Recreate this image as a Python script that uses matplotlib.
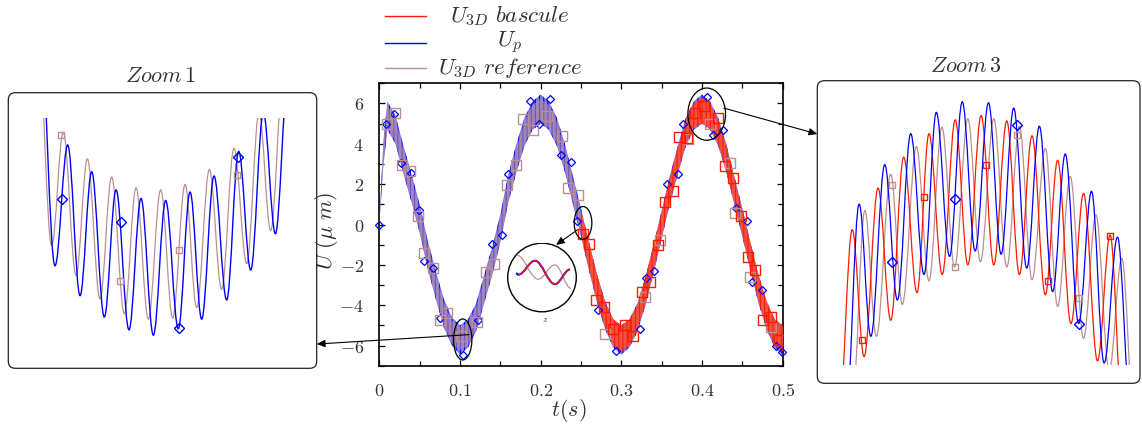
import matplotlib
matplotlib.use('Agg')
import matplotlib.pyplot as plt
from matplotlib.path import Path
from matplotlib.patches import PathPatch, Ellipse, Circle, FancyBboxPatch, ConnectionPatch
from matplotlib.lines import Line2D
from matplotlib.ticker import MultipleLocator, FuncFormatter

plt.rcParams['mathtext.fontset'] = 'cm'
plt.rcParams['hatch.linewidth'] = 0.8

BLUE = '#0000ff'
RED = '#ff1a00'
BROWN = '#bc8f8f'
TXT = '#333333'

# ---- main plot: envelope of the fast oscillation ----
t_env = [0.0, 0.005, 0.01, 0.02, 0.03, 0.04, 0.05, 0.06, 0.07, 0.08, 0.09,
         0.10, 0.11, 0.12, 0.13, 0.14, 0.15, 0.16, 0.17, 0.18, 0.19,
         0.20, 0.21, 0.22, 0.23, 0.24, 0.25, 0.26, 0.27, 0.28, 0.29,
         0.30, 0.31, 0.32, 0.33, 0.34, 0.35, 0.36, 0.37, 0.38, 0.39,
         0.40, 0.41, 0.42, 0.43, 0.44, 0.45, 0.46, 0.47, 0.48, 0.49, 0.50]
blue_lo = [0.0, 2.9, 4.7, 4.0, 2.5, 1.1, -0.4, -2.2, -3.7, -5.1, -6.0,
           -6.45, -6.1, -5.3, -3.9, -2.5, -0.9, 1.1, 2.6, 3.9, 4.7,
           5.0, 4.7, 3.9, 2.6, 1.0, -0.6, -2.3, -3.9, -5.2, -6.1,
           -6.45, -6.1, -5.3, -4.0, -2.4, -0.7, 1.0, 2.5, 3.9, 4.7,
           5.0, 4.7, 3.9, 2.6, 1.0, -0.6, -2.3, -3.9, -5.2, -6.1, -6.45]
blue_hi = [0.0, 4.1, 6.1, 5.4, 3.9, 2.5, 1.0, -0.8, -2.3, -3.7, -4.6,
           -5.0, -4.7, -3.9, -2.5, -1.1, 0.5, 2.5, 4.0, 5.3, 6.1,
           6.45, 6.1, 5.3, 4.0, 2.4, 0.8, -0.9, -2.5, -3.8, -4.7,
           -5.0, -4.7, -3.9, -2.6, -1.0, 0.7, 2.4, 3.9, 5.3, 6.1,
           6.45, 6.1, 5.3, 4.0, 2.4, 0.8, -0.9, -2.5, -3.8, -4.7, -5.0]
brown_lo = [0.0, 3.0, 4.8, 4.1, 2.6, 1.2, -0.3, -2.1, -3.6, -5.0, -5.9,
            -6.25, -6.0, -5.2, -3.8, -2.4, -0.8, 1.2, 2.7, 4.0, 4.8,
            5.05, 4.8, 4.0, 2.7, 1.1, -0.5, -2.2, -3.8, -5.1, -5.9,
            -6.25, -5.9, -5.2, -3.9, -2.3, -0.6, 1.1, 2.6, 4.0, 4.8,
            5.05, 4.8, 4.0, 2.7, 1.1, -0.5, -2.2, -3.8, -5.1, -5.9, -6.25]
brown_hi = [0.0, 4.0, 5.9, 5.2, 3.7, 2.3, 0.8, -1.0, -2.5, -3.9, -4.8,
            -5.05, -4.9, -4.1, -2.7, -1.3, 0.3, 2.3, 3.8, 5.1, 5.9,
            6.25, 5.9, 5.1, 3.8, 2.2, 0.6, -1.1, -2.7, -4.0, -4.8,
            -5.05, -4.8, -4.1, -2.8, -1.2, 0.5, 2.2, 3.7, 5.1, 5.9,
            6.25, 5.9, 5.1, 3.8, 2.2, 0.6, -1.1, -2.7, -4.0, -4.8, -5.05]
t_red = [0.25, 0.26, 0.27, 0.28, 0.29, 0.30, 0.31, 0.32, 0.33, 0.34, 0.35,
         0.36, 0.37, 0.38, 0.39, 0.40, 0.41, 0.42, 0.43, 0.44, 0.45,
         0.46, 0.47, 0.48, 0.49, 0.50]
red_lo = [-0.5, -2.2, -3.8, -5.1, -6.0, -6.3, -6.0, -5.2, -3.9, -2.3, -0.6,
          1.1, 2.6, 4.0, 4.8, 5.0, 4.8, 4.0, 2.7, 1.1, -0.5,
          -2.2, -3.8, -5.1, -6.0, -6.3]
red_hi = [0.7, -0.9, -2.5, -3.9, -4.7, -5.0, -4.7, -4.0, -2.6, -1.0, 0.6,
          2.3, 3.8, 5.2, 6.0, 6.3, 6.0, 5.2, 3.9, 2.3, 0.7,
          -0.9, -2.5, -3.8, -4.7, -5.0]

# markers on the main plot
blue_mk_t = [0.0, 0.008, 0.018, 0.027, 0.039, 0.049, 0.056, 0.067, 0.075, 0.104,
             0.122, 0.140, 0.152, 0.159, 0.187, 0.198, 0.211, 0.225, 0.238, 0.245,
             0.271, 0.293, 0.323, 0.330, 0.341, 0.356, 0.370, 0.376, 0.406, 0.413,
             0.426, 0.442, 0.456, 0.462, 0.474, 0.492, 0.499]
blue_mk_u = [0.0, 4.97, 5.46, 3.06, 2.56, 0.73, -1.79, -2.14, -4.63, -6.45,
             -4.75, -0.96, -0.51, 2.48, 6.13, 5.0, 6.2, 3.47, 3.1, 0.15,
             -4.25, -6.25, -5.17, -2.67, -2.29, 2.0, 2.48, 5.0, 6.33, 4.44,
             4.67, 0.81, 0.15, -2.84, -3.26, -6.0, -6.33]
brown_mk_t = [0.009, 0.020, 0.028, 0.038, 0.0475, 0.056, 0.0666, 0.075, 0.084, 0.101,
              0.121, 0.132, 0.142, 0.158, 0.170, 0.178, 0.190, 0.2075, 0.226, 0.234,
              0.2467, 0.280, 0.329, 0.348, 0.383, 0.410, 0.435, 0.441, 0.459, 0.486]
brown_mk_u = [5.0, 5.55, 2.97, 2.64, 0.4, -1.39, -2.17, -4.75, -4.37, -5.55,
              -4.83, -2.34, -1.97, 1.98, 2.93, 5.22, 4.69, 5.38, 4.39, 1.81,
              1.48, -5.42, -3.59, -0.76, 4.22, 4.97, 3.06, 0.56, -2.59, -5.08]
red_mk_t = [0.253, 0.260, 0.269, 0.278, 0.290, 0.305, 0.315, 0.325, 0.3355, 0.346,
            0.354, 0.364, 0.372, 0.381, 0.391, 0.402, 0.420, 0.429, 0.439, 0.448,
            0.457, 0.466, 0.476, 0.486, 0.496]
red_mk_u = [-0.47, -0.98, -3.72, -4.09, -5.17, -5.0, -5.55, -3.34, -2.84, -1.01,
            1.10, 1.64, 4.35, 4.30, 5.55, 5.88, 5.3, 2.89, 2.31, 0.40,
            -1.59, -2.26, -4.75, -4.58, -5.75]

# ---- Zoom 1 (t in ms): extrema of the curves ----
z1_blue_t = [88.42, 89.95, 91.25, 92.51, 93.70, 94.99, 96.19, 97.51, 98.74, 100.00,
             101.26, 102.55, 103.75, 104.94, 106.20, 107.49, 108.72, 109.95, 111.24,
             112.47, 113.73]
z1_blue_u = [-3.59, -5.80, -4.67, -6.08, -4.92, -6.28, -5.09, -6.40, -5.17, -6.45,
             -5.19, -6.39, -5.11, -6.30, -4.96, -6.12, -4.73, -5.84, -4.37,
             -5.50, -4.09]
z1_brown_t = [88.25, 89.61, 90.80, 92.10, 93.26, 94.55, 95.74, 97.04, 98.23, 99.49,
              100.75, 101.98, 103.24, 104.43, 105.72, 106.98, 108.24, 109.54, 110.80,
              111.99, 113.28]
z1_brown_u = [-3.78, -5.61, -4.55, -5.89, -4.80, -6.11, -4.97, -6.25, -5.07, -6.30,
              -5.09, -6.29, -5.04, -6.19, -4.90, -6.02, -4.70, -5.78, -4.37,
              -5.47, -4.03]
z1_blue_mk_t = [90.63, 96.66, 102.62, 108.62]
z1_blue_mk_u = [-5.18, -5.39, -6.38, -4.78]
z1_brown_mk_t = [90.57, 96.63, 102.62, 108.58]
z1_brown_mk_u = [-4.58, -5.945, -5.65, -4.95]

# ---- Zoom 3 (t in ms) ----
z3_blue_t = [387.48, 388.77, 389.90, 391.25, 392.47, 393.76, 395.05, 396.24, 397.52,
             398.75, 400.00, 401.29, 402.51, 403.73, 404.99, 406.21, 407.50, 408.72,
             410.01, 411.26, 412.48, 413.77, 415.06]
z3_blue_u = [3.45, 5.44, 4.20, 5.81, 4.54, 6.10, 4.78, 6.30, 4.95,
             6.40, 5.00, 6.39, 4.97, 6.34, 4.84, 6.17, 4.62, 5.91,
             4.32, 5.56, 3.95, 5.13, 3.51]
z3_red_t = [386.84, 388.10, 389.25, 390.60, 391.83, 393.08, 394.37, 395.53, 396.81,
            398.07, 399.29, 400.58, 401.80, 403.06, 404.28, 405.50, 406.79, 407.98,
            409.27, 410.49, 411.84, 413.06, 414.25]
z3_red_u = [3.51, 5.20, 4.01, 5.59, 4.35, 5.88, 4.61, 6.10, 4.78,
            6.23, 4.87, 6.27, 4.87, 6.22, 4.78, 6.08, 4.59, 5.85,
            4.32, 5.54, 3.97, 5.15, 3.51]
z3_brown_t = [388.13, 389.32, 390.44, 391.83, 392.95, 394.31, 395.53, 396.78, 398.01,
              399.29, 400.51, 401.80, 403.06, 404.28, 405.50, 406.79, 407.98, 409.20,
              410.49, 411.68, 412.97, 414.19, 415.38]
z3_brown_u = [3.60, 5.38, 4.20, 5.72, 4.50, 5.98, 4.72, 6.16, 4.85,
              6.24, 4.90, 6.24, 4.85, 6.17, 4.73, 5.96, 4.48, 5.70,
              4.18, 5.34, 3.88, 4.93, 3.45]
z3_blue_mk_t = [391.99, 398.01, 404.02, 410.07]
z3_blue_mk_u = [4.90, 5.49, 6.18, 4.32]
z3_brown_mk_t = [391.99, 398.01, 404.02, 410.07]
z3_brown_mk_u = [5.62, 4.85, 6.09, 4.56]
z3_red_mk_t = [389.00, 395.01, 401.00, 407.01, 413.03]
z3_red_mk_u = [4.17, 5.51, 5.81, 4.72, 5.14]

# ---- circular inset near t = 0.25 (local units) ----
c_red_x = [-0.74, -0.68, -0.20, 0.37, 0.80]
c_red_y = [0.12, 0.08, 0.48, -0.19, 0.23]
c_brown_x = [-0.72, -0.11, 0.37, 0.83]
c_brown_y = [0.64, -0.05, 0.36, -0.31]


def smooth_path(xs, ys, k=0.364):
    # cubic segments with flat tangents at each extremum
    verts = [(xs[0], ys[0])]
    codes = [Path.MOVETO]
    for i in range(1, len(xs)):
        dx = xs[i] - xs[i - 1]
        verts += [(xs[i - 1] + k * dx, ys[i - 1]), (xs[i] - k * dx, ys[i]), (xs[i], ys[i])]
        codes += [Path.CURVE4] * 3
    return Path(verts, codes)


W, H = 1142, 428


def px_box(x0, y0, x1, y1):
    return [x0 / W, 1 - y1 / H, (x1 - x0) / W, (y1 - y0) / H]


fig = plt.figure(figsize=(W / 100, H / 100), dpi=100)

# ---------------- main axes ----------------
ax = fig.add_axes(px_box(379.3, 83.3, 782.7, 365.7))
ax.fill_between(t_env, blue_lo, blue_hi, facecolor='#7a78ee', edgecolor=BLUE,
                hatch='||||', linewidth=0, zorder=2)
ax.fill_between(t_env, brown_lo, brown_hi, facecolor=BROWN, alpha=0.6,
                linewidth=0, zorder=3)
ax.fill_between(t_red, red_lo, red_hi, facecolor='#ff4a32', edgecolor=RED,
                hatch='||||', linewidth=0, alpha=0.9, zorder=4)

ax.plot(blue_mk_t, blue_mk_u, ls='none', marker='D', ms=4.5, mfc='none',
        mec=BLUE, mew=0.9, zorder=5, clip_on=False)
ax.plot(brown_mk_t, brown_mk_u, ls='none', marker='s', ms=6.8, mfc='none',
        mec=BROWN, mew=1.0, zorder=5)
ax.plot(red_mk_t, red_mk_u, ls='none', marker='s', ms=6.8, mfc='none',
        mec=RED, mew=1.0, zorder=6)

ax.set_xlim(0, 0.5)
ax.set_ylim(-7, 7)
ax.xaxis.set_major_locator(MultipleLocator(0.1))
ax.xaxis.set_minor_locator(MultipleLocator(0.05))
ax.yaxis.set_major_locator(MultipleLocator(2))
ax.yaxis.set_minor_locator(MultipleLocator(1))
fmt = FuncFormatter(lambda v, p: '$%g$' % round(v, 3))
ax.xaxis.set_major_formatter(fmt)
ax.yaxis.set_major_formatter(fmt)
ax.tick_params(which='both', direction='in', top=True, right=True,
               labelsize=13, labelcolor=TXT, width=0.9)
ax.tick_params(which='major', length=4.5)
ax.tick_params(which='minor', length=3.5)
ax.tick_params(axis='x', pad=12)
ax.tick_params(axis='y', pad=11)
for s in ax.spines.values():
    s.set_linewidth(1.2)
ax.set_xlabel(r'$t(s)$', fontsize=16, color=TXT)
ax.set_ylabel(r'$U\ (\mu\ m)$', fontsize=16, color=TXT)
ax.xaxis.set_label_coords(0.469, -0.11)
ax.yaxis.set_label_coords(-0.098, 0.477)

# zoom ellipses
for (xc, yc, w, h) in [(0.1034, -5.70, 0.0227, 2.03),
                       (0.4058, 5.47, 0.0467, 2.59),
                       (0.2525, 0.08, 0.0219, 1.62)]:
    ax.add_patch(Ellipse((xc, yc), w, h, fill=False, ec='black', lw=0.9,
                         zorder=7, clip_on=False))

# ---------------- Zoom 1 panel ----------------
fig.add_artist(FancyBboxPatch((0.083, 0.597), 3.084, 2.756,
                              boxstyle='round,pad=0,rounding_size=0.07',
                              transform=fig.dpi_scale_trans, fill=False,
                              ec='#222222', lw=0.9))
az1 = fig.add_axes(px_box(8.3, 118.3, 316.7, 368.3))
az1.set_xlim(85.18, 116.69)
az1.set_ylim(-6.76, -4.42)
az1.axis('off')
az1.add_patch(PathPatch(smooth_path(z1_brown_t, z1_brown_u), fill=False,
                        ec=BROWN, lw=0.9))
az1.add_patch(PathPatch(smooth_path(z1_blue_t, z1_blue_u), fill=False,
                        ec=BLUE, lw=1.0))
az1.plot(z1_blue_mk_t, z1_blue_mk_u, ls='none', marker='D', ms=5, mfc='none',
         mec=BLUE, mew=1.0)
az1.plot(z1_brown_mk_t, z1_brown_mk_u, ls='none', marker='s', ms=5, mfc='none',
         mec=BROWN, mew=1.0)
fig.text(160 / W, 1 - 76 / H, r'$Zoom\,1$', ha='center', va='center',
         fontsize=16, color=TXT)

# ---------------- Zoom 3 panel ----------------
fig.add_artist(FancyBboxPatch((8.173, 0.447), 3.227, 3.026,
                              boxstyle='round,pad=0,rounding_size=0.07',
                              transform=fig.dpi_scale_trans, fill=False,
                              ec='#222222', lw=0.9))
az3 = fig.add_axes(px_box(817.3, 80.7, 1140.7, 365.0))
az3.set_xlim(384.72, 416.02)
az3.set_ylim(3.931, 6.597)
az3.axis('off')
az3.add_patch(PathPatch(smooth_path(z3_brown_t, z3_brown_u), fill=False,
                        ec=BROWN, lw=0.9))
az3.add_patch(PathPatch(smooth_path(z3_red_t, z3_red_u), fill=False,
                        ec=RED, lw=0.9))
az3.add_patch(PathPatch(smooth_path(z3_blue_t, z3_blue_u), fill=False,
                        ec=BLUE, lw=0.9))
az3.plot(z3_blue_mk_t, z3_blue_mk_u, ls='none', marker='D', ms=5, mfc='none',
         mec=BLUE, mew=1.0)
az3.plot(z3_brown_mk_t, z3_brown_mk_u, ls='none', marker='s', ms=5, mfc='none',
         mec=BROWN, mew=1.0)
az3.plot(z3_red_mk_t, z3_red_mk_u, ls='none', marker='s', ms=5, mfc='none',
         mec=RED, mew=1.0)
fig.text(966 / W, 1 - 66 / H, r'$Zoom\,3$', ha='center', va='center',
         fontsize=16, color=TXT)

# ---------------- circular inset ----------------
ac = fig.add_axes(px_box(507, 242.5, 577, 312.5))
ac.set_xlim(-1, 1)
ac.set_ylim(-1, 1)
ac.axis('off')
circ = Circle((0, 0), 0.98, fill=False, ec='black', lw=1.0, transform=ac.transData)
ac.add_patch(circ)
p_brown = PathPatch(smooth_path(c_brown_x, c_brown_y), fill=False, ec=BROWN, lw=0.9)
p_blue = PathPatch(smooth_path(c_red_x, c_red_y), fill=False, ec=BLUE, lw=1.5)
p_red = PathPatch(smooth_path(c_red_x[1:], c_red_y[1:]), fill=False, ec=RED, lw=1.0)
for p in (p_brown, p_blue, p_red):
    ac.add_patch(p)
    p.set_clip_path(circ)
fig.text(545 / W, 1 - 320 / H, r'$z$', ha='center', va='center', fontsize=6.5,
         color=TXT)

# ---------------- arrows ----------------
for con in [
    ConnectionPatch(xyA=(0.1112, -5.46), coordsA=ax.transData,
                    xyB=(1.0, 0.097), coordsB=az1.transAxes),
    ConnectionPatch(xyA=(0.4271, 5.77), coordsA=ax.transData,
                    xyB=(0.0, 0.8125), coordsB=az3.transAxes),
    ConnectionPatch(xyA=(0.2457, -0.26), coordsA=ax.transData,
                    xyB=(0.40, 0.93), coordsB=ac.transData),
]:
    con.set_arrowstyle('-|>', head_length=0.5, head_width=0.22)
    con.set_linewidth(0.8)
    con.set_color('black')
    con.set_zorder(10)
    fig.add_artist(con)

# ---------------- legend (centred entries) ----------------
leg_items = [(RED, r'$U_{3D}\ bascule$', 16),
             (BLUE, r'$U_p$', 42.7),
             (BROWN, r'$U_{3D}\ reference$', 68.3)]
for col, lab, yy in leg_items:
    fig.add_artist(Line2D([385 / W, 426 / W], [1 - yy / H, 1 - yy / H],
                          color=col, lw=1.0, transform=fig.transFigure))
    fig.text(510 / W, 1 - yy / H, lab, ha='center', va='center',
             fontsize=16.5, color=TXT)

fig.savefig('out.png', dpi=100)
